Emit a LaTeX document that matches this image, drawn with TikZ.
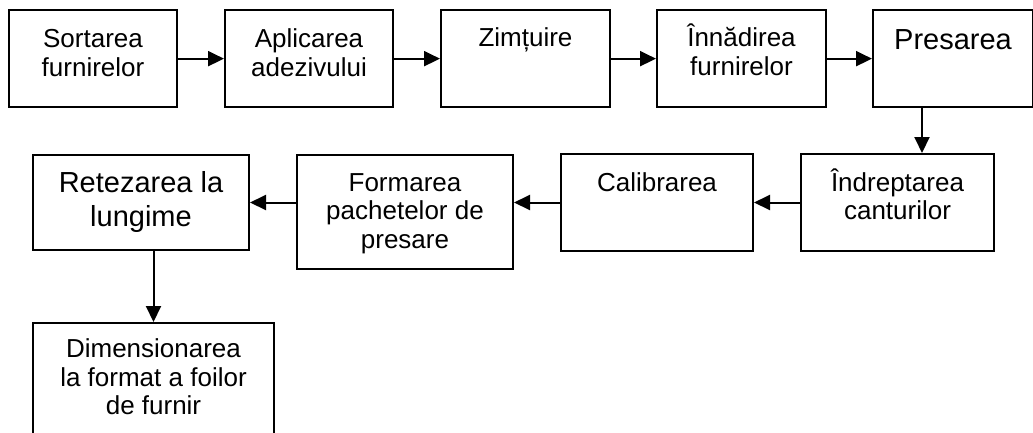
\documentclass[tikz,border=0pt]{standalone}
\usepackage{fontspec}
\setmainfont{Liberation Sans}
\usetikzlibrary{arrows.meta,calc}

\newcommand{\caseta}[4]{\parbox[c][#2][t]{#1}{\centering\rule{0pt}{#3}#4}}

\begin{document}
\begin{tikzpicture}[x=1pt,y=-1pt,
  etapa/.style={draw,line width=2pt,inner sep=0pt,anchor=north west,font=\fontsize{26}{28.5}\selectfont},
  etapamare/.style={etapa,font=\fontsize{29}{33.3}\selectfont},
  sageata/.style={line width=2pt,-{Triangle[length=16pt,width=15pt]}}]
\useasboundingbox (0,0) rectangle (1033,432);
% randul de sus
\node[etapa] (sort) at (8,9.3) {\caseta{168pt}{96.7pt}{37.4pt}{Sortarea\\furnirelor}};
\node[etapa] (apl) at (224,9.3) {\caseta{168pt}{96.7pt}{37.4pt}{Aplicarea\\adezivului}};
\node[etapa] (zimt) at (440,9.3) {\caseta{169pt}{96.7pt}{36.4pt}{Zimțuire}};
\node[etapa] (innad) at (656,9.3) {\caseta{169pt}{96.7pt}{36.4pt}{Înnădirea\\furnirelor}};
\node[etapamare] (pres) at (872,9.3) {\caseta{160pt}{96.7pt}{39pt}{Presarea}};
% randul din mijloc
\node[etapa] (indr) at (800,153) {\caseta{193pt}{97pt}{37pt}{Îndreptarea\\canturilor}};
\node[etapa] (calib) at (560,153) {\caseta{192pt}{97pt}{37pt}{Calibrarea}};
\node[etapa] (form) at (296,154) {\caseta{216pt}{114pt}{36pt}{Formarea\\pachetelor de\\presare}};
\node[etapamare] (ret) at (32,154) {\caseta{216pt}{95pt}{37.7pt}{Retezarea la\\lungime}};
% jos
\node[etapa] (dim) at (32,322) {\caseta{241pt}{116pt}{34.7pt}{Dimensionarea\\la format a foilor\\de furnir}};

\draw[sageata] (sort.east) -- (apl.west);
\draw[sageata] (apl.east) -- (zimt.west);
\draw[sageata] (zimt.east) -- (innad.west);
\draw[sageata] (innad.east) -- (pres.west);
\draw[sageata] ([xshift=-31pt]pres.south) -- ([xshift=-31pt]pres.south |- indr.north);
\draw[sageata] (indr.west) -- (indr.west -| calib.east);
\draw[sageata] (calib.west) -- (calib.west -| form.east);
\draw[sageata] (ret.east -| form.west) -- (ret.east);
\draw[sageata] (dim.north |- ret.south) -- (dim.north);
\end{tikzpicture}
\end{document}
